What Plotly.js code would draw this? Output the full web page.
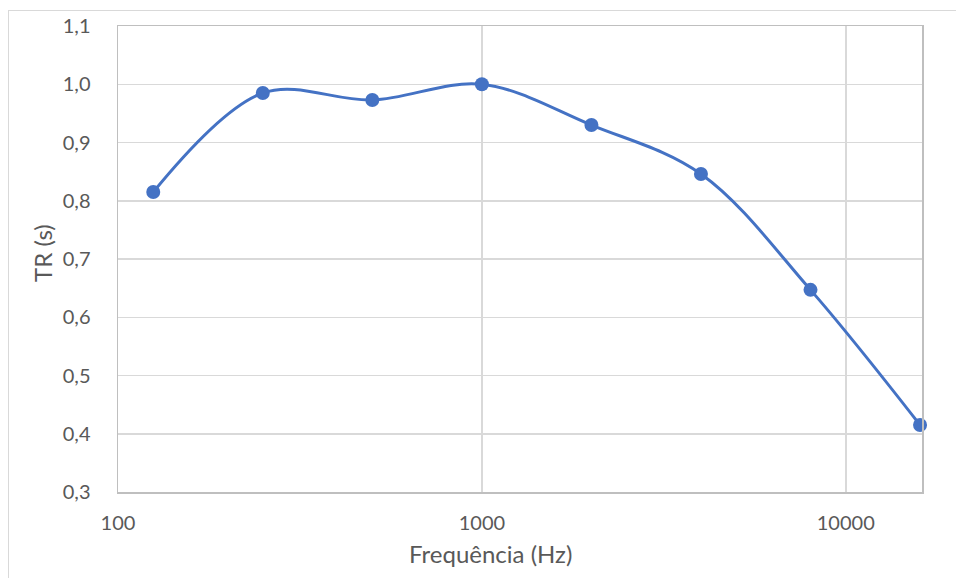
<!DOCTYPE html>
<html>
<head>
<meta charset="utf-8">
<script src="https://cdn.plot.ly/plotly-3.0.1.min.js"></script>
<style>
html,body{margin:0;padding:0;background:#fff;overflow:hidden;}
#frame{position:absolute;left:8px;top:10px;width:1000px;height:600px;border-left:1px solid #d9d9d9;border-top:1px solid #d9d9d9;}
#chart{position:absolute;left:0;top:0;width:956px;height:578px;}
</style>
</head>
<body>
<div id="frame"></div>
<div id="chart"></div>
<script>
const frequencies = [125, 250, 500, 1000, 2000, 4000, 8000, 16000];
const trValues = [0.815, 0.985, 0.973, 1.000, 0.930, 0.846, 0.647, 0.415];
const xTickVals = [100, 1000, 10000];
const xTickText = ['100', '1000', '10000'];
const yTickVals = [0.3, 0.4, 0.5, 0.6, 0.7, 0.8, 0.9, 1.0, 1.1];
const xTitle = 'Frequência (Hz)';
const yTitle = 'TR (s)';

const fontFam = 'Lato, "Open Sans", sans-serif';
const textColor = '#595959';

const trace = {
  x: frequencies,
  y: trValues,
  type: 'scatter',
  mode: 'lines+markers',
  line: {color: '#4472C4', width: 3, shape: 'spline', smoothing: 1},
  marker: {color: '#4472C4', size: 14},
  showlegend: false,
  cliponaxis: false
};

const layout = {
  width: 956,
  height: 578,
  margin: {l: 118, r: 34, t: 26, b: 86},
  paper_bgcolor: 'rgba(0,0,0,0)',
  plot_bgcolor: '#ffffff',
  separators: ', ',
  font: {family: fontFam, color: textColor, size: 20},
  xaxis: {
    type: 'log',
    range: [2, Math.log10(16200)],
    tickvals: xTickVals,
    ticktext: xTickText,
    ticks: '',
    showgrid: true,
    gridcolor: '#d9d9d9',
    gridwidth: 1.5,
    showline: true,
    linecolor: '#bfbfbf',
    linewidth: 1.5,
    mirror: true,
    zeroline: false,
    ticklabelstandoff: 12,
    tickfont: {family: fontFam, color: textColor, size: 20}
  },
  yaxis: {
    range: [0.3, 1.1],
    tickvals: yTickVals,
    tickformat: '.1f',
    ticks: '',
    showgrid: true,
    gridcolor: '#d9d9d9',
    gridwidth: 1.5,
    showline: true,
    linecolor: '#bfbfbf',
    linewidth: 1.5,
    mirror: true,
    zeroline: false,
    ticklabelstandoff: 22,
    tickfont: {family: fontFam, color: textColor, size: 20}
  },
  annotations: [
    {text: xTitle, xref: 'paper', yref: 'paper', x: 0.4627, y: -0.133,
     xanchor: 'center', yanchor: 'middle', showarrow: false,
     font: {family: fontFam, color: textColor, size: 24}},
    {text: yTitle, xref: 'paper', yref: 'paper', x: -0.0933, y: 0.513,
     xanchor: 'center', yanchor: 'middle', showarrow: false, textangle: -90,
     font: {family: fontFam, color: textColor, size: 24}}
  ]
};

Plotly.newPlot('chart', [trace], layout, {staticPlot: true, displayModeBar: false});
</script>
</body>
</html>
